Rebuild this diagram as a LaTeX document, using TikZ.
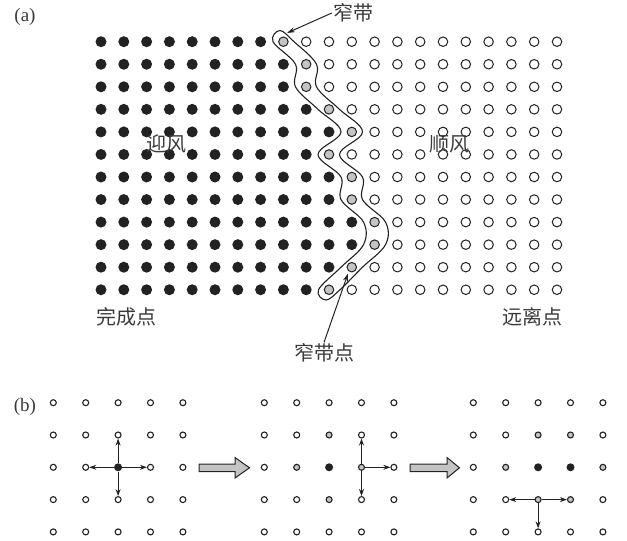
\documentclass[tikz,border=0pt]{standalone}
\usepackage{fontspec}
\setmainfont{Liberation Serif}
\newfontfamily\cjk{Noto Sans CJK SC}
\usetikzlibrary{arrows.meta}
\definecolor{ink}{HTML}{222222}
\definecolor{txt}{HTML}{3A3A3A}
\definecolor{gfill}{HTML}{C4C4C4}
\makeatletter
\newcommand\cellstyle[4]{%
  \def\cst{bw}%
  \edef\tmpA{\noexpand\in@{,#1-#2,}{#4}}\tmpA\ifin@\def\cst{bg}\fi
  \edef\tmpA{\noexpand\in@{,#1-#2,}{#3}}\tmpA\ifin@\def\cst{bb}\fi}
\makeatother
\def\bsA{,2-2,}
\def\gsA{,}
\def\bsB{,2-2,}
\def\gsB{,2-1,1-2,2-3,3-2,}
\def\bsC{,2-2,3-2,}
\def\gsC{,2-1,3-1,1-2,4-2,2-3,3-3,}
\begin{document}
\begin{tikzpicture}[x=1pt,y=-1pt,
  dotB/.style={circle, fill=ink, inner sep=0pt, minimum size=11pt},
  dotG/.style={circle, draw=ink, fill=gfill, line width=1pt, inner sep=0pt, minimum size=9.5pt},
  dotW/.style={circle, draw=ink, fill=white, line width=1pt, inner sep=0pt, minimum size=9.5pt},
  bw/.style={circle, draw=ink, fill=white, line width=1.1pt, inner sep=0pt, minimum size=6pt},
  bg/.style={circle, draw=ink, fill=gfill, line width=1.1pt, inner sep=0pt, minimum size=6pt},
  bb/.style={circle, fill=ink, inner sep=0pt, minimum size=8pt},
  lab/.style={font=\cjk\fontsize{20}{22}\selectfont, text=txt, inner sep=1pt},
  tag/.style={font=\fontsize{19}{21}\selectfont, text=txt, inner sep=0pt},
  band/.style={draw=ink, line width=1.1pt},
  callout/.style={draw=ink, line width=1pt, -{Stealth[length=8pt,width=5pt]}},
  barrow/.style={draw=ink, line width=1pt, -{Stealth[length=7pt,width=5pt]}},
  blockarrow/.style={draw=ink, fill=gfill, line width=1pt, line join=miter}]
\useasboundingbox (0,0) rectangle (627,541);

% ---------- (a) ----------
\node[tag] (tagA) at (25,17) {(a)};
\foreach \j/\g in {0/8,1/9,2/9,3/10,4/11,5/10,6/11,7/11,8/12,9/12,10/11,11/10}{
  \foreach \i in {0,...,20}{
    \ifnum\i<\g \def\st{dotB}\else\ifnum\i=\g \def\st{dotG}\else\def\st{dotW}\fi\fi
    \node[\st] (a-\i-\j) at ({101+22.8*\i},{41.7+22.55*\j}) {};
  }
}
% narrow band outline
\draw[band] plot[smooth cycle, tension=0.6] coordinates {
  (280,30.5)
  (294,41.7) (316.5,64.25) (316.5,86.8) (339.5,109.35) (362.5,131.9) (339.5,154.45)
  (362.5,177) (362.5,199.55) (385.5,222.1) (385.5,244.65) (362.5,267.2) (340,289.75)
  (326,300)
  (318.5,289.75) (341,267.2) (363.5,244.65) (363.5,222.1) (341,199.55) (341,177)
  (318,154.45) (341,131.9) (318,109.35) (295.5,86.8) (295.5,64.25) (273,41.7)
};
\coordinate (bandTop) at (287,33);
\coordinate (ptTip) at (348,273.5);
\node[lab] (lbBand) at (353,13) {窄带};
\node[lab] (lbPt) at (324,353) {窄带点};
\draw[callout] (lbBand.west) -- (bandTop);
\draw[callout] (lbPt.north) -- (ptTip);
\node[lab] (lbUp) at (166,144) {迎风};
\node[lab] (lbDown) at (449,144) {顺风};
\node[lab] (lbDone) at (126,317) {完成点};
\node[lab] (lbFar) at (532,317) {远离点};

% ---------- (b) ----------
\node[tag] (tagB) at (25,407) {(b)};
\foreach \i in {0,...,4}{
  \foreach \j in {0,...,4}{
    \cellstyle{\i}{\j}{\bsA}{\gsA}
    \node[\cst] (p-\i-\j) at ({53.3+32.4*\i},{402.7+32.3*\j}) {};
    \cellstyle{\i}{\j}{\bsB}{\gsB}
    \node[\cst] (q-\i-\j) at ({264.3+32.4*\i},{402.7+32.3*\j}) {};
    \cellstyle{\i}{\j}{\bsC}{\gsC}
    \node[\cst] (r-\i-\j) at ({473.3+32.4*\i},{402.7+32.3*\j}) {};
  }
}
\draw[barrow] (p-2-2) -- (p-2-1);
\draw[barrow] (p-2-2) -- (p-2-3);
\draw[barrow] (p-2-2) -- (p-1-2);
\draw[barrow] (p-2-2) -- (p-3-2);
\draw[barrow] (q-3-2) -- (q-3-1);
\draw[barrow] (q-3-2) -- (q-3-3);
\draw[barrow] (q-3-2) -- (q-4-2);
\draw[barrow] (r-2-3) -- (r-1-3);
\draw[barrow] (r-2-3) -- (r-3-3);
\draw[barrow] (r-2-3) -- (r-2-4);

\draw[blockarrow] (199,464) -- (235,464) -- (235,457.5) -- (249.5,467.8)
  -- (235,478) -- (235,471.5) -- (199,471.5) -- cycle;
\draw[blockarrow] (410,464) -- (447,464) -- (447,457.5) -- (459.5,467.8)
  -- (447,478) -- (447,471.5) -- (410,471.5) -- cycle;
\end{tikzpicture}
\end{document}
